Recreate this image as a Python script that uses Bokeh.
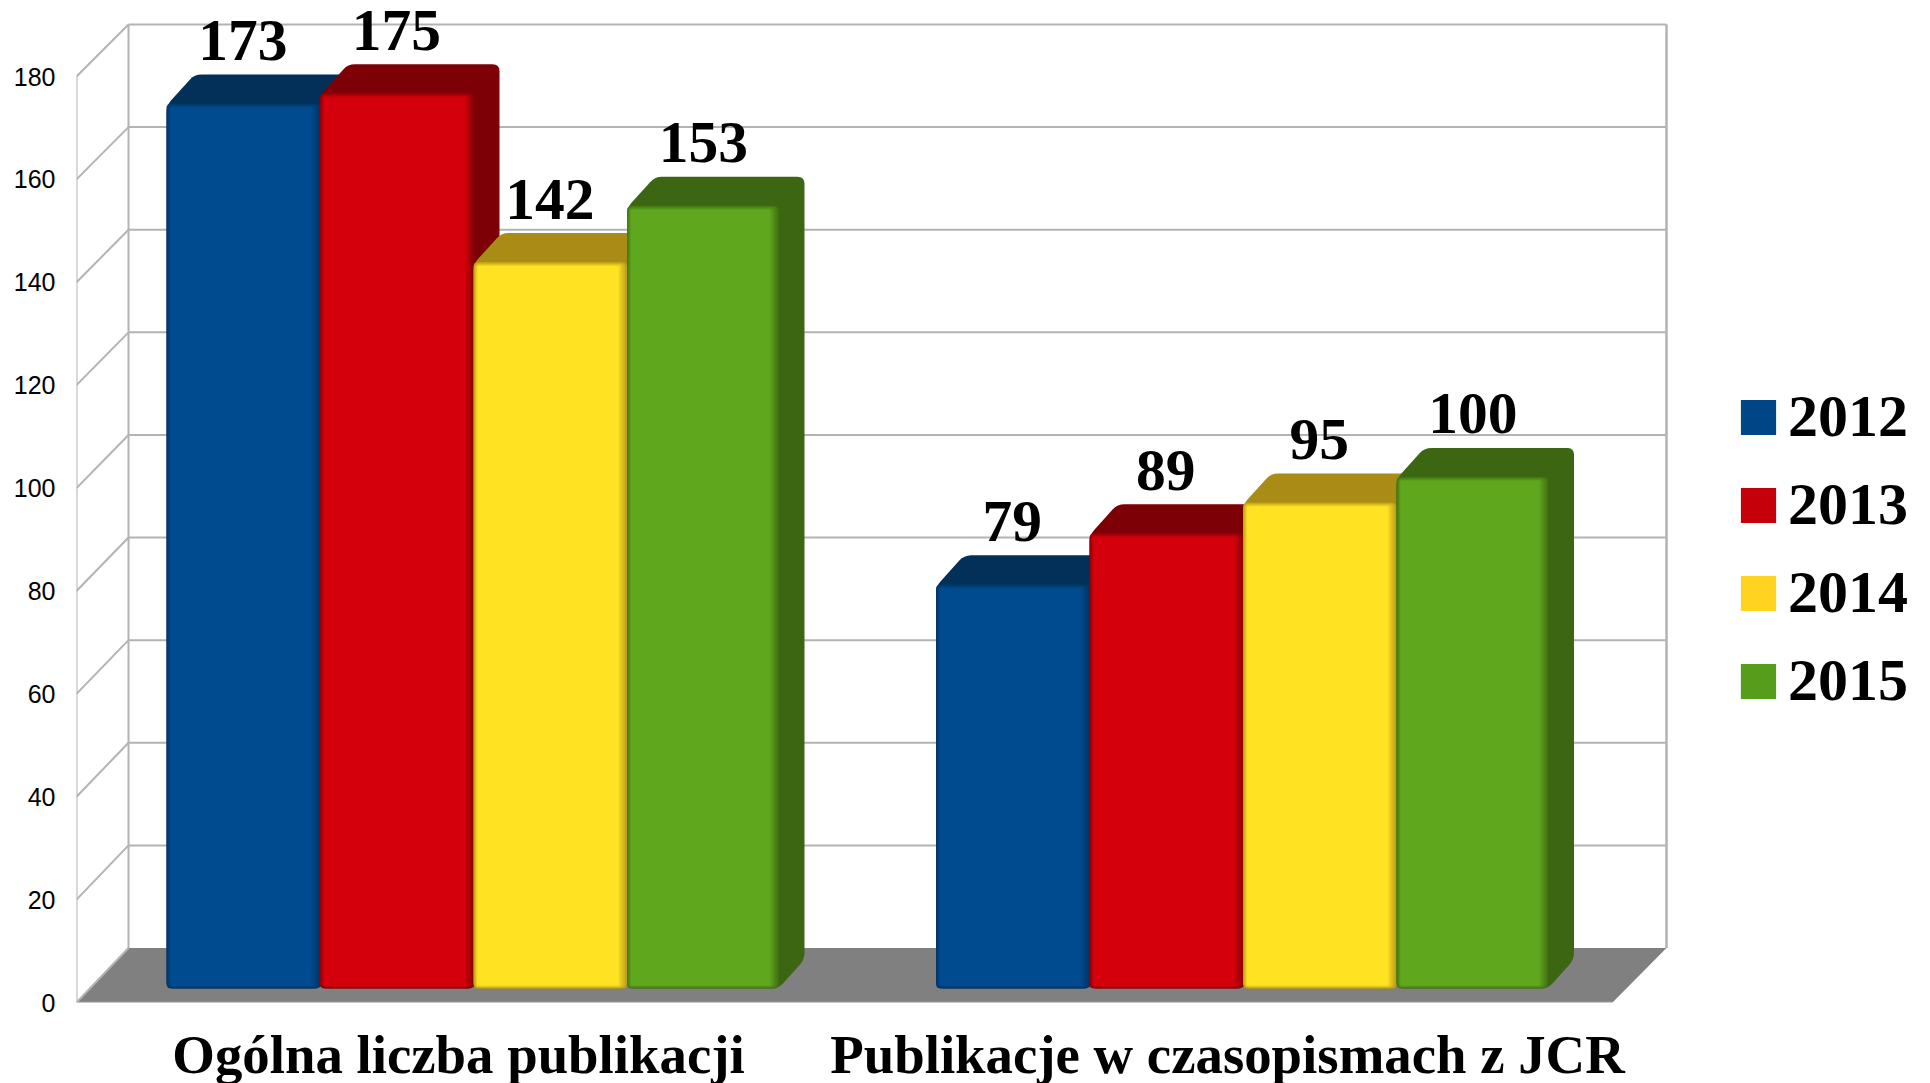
from bokeh.plotting import figure
from bokeh.models import Range1d, FixedTicker, Legend, LegendItem, ColumnDataSource
from bokeh.core.properties import value
from bokeh.embed import file_html
from bokeh.resources import INLINE

# ---- data ----
categories = ["Ogólna liczba publikacji", "Publikacje w czasopismach z JCR"]
years = ["2012", "2013", "2014", "2015"]
v2012 = [173, 79]
v2013 = [175, 89]
v2014 = [142, 95]
v2015 = [153, 100]
y_ticks = [0, 20, 40, 60, 80, 100, 120, 140, 160, 180]

# ---- styling / layout ----
front_cols = ["#004b8f", "#d4000b", "#ffe322", "#5fa81d"]
edge_cols = ["#033058", "#7c0006", "#a88c16", "#3c6612"]
legend_cols = ["#004586", "#c5000b", "#ffd320", "#579d1c"]
GRID = "#b3b3b3"
SERIF = "Liberation Serif"

K = 926 / 180        # px per value on the front plane
K_BACK = 923.5 / 180  # px per value on the back wall
K_BAR = 5.116        # px per value on the bars' front faces
FRONT_0, BACK_0, BAR_0 = 1002, 947.5, 988
WALL_L_F, WALL_L_B, WALL_R_B, FLOOR_R_F = 76, 128, 1666, 1612
GROUP_X = [166, 935.5]
BAR_W = 153.5
DX, DY = 26, 29
W, H = 1914, 1083


def yd(py):
    return (FRONT_0 - py) / K


def lerp_col(a, b, t):
    ca = [int(a[i:i + 2], 16) for i in (1, 3, 5)]
    cb = [int(b[i:i + 2], 16) for i in (1, 3, 5)]
    return "#%02x%02x%02x" % tuple(round(x + (y - x) * t) for x, y in zip(ca, cb))


def round_poly(pts, r):
    out = []
    n = len(pts)
    for i in range(n):
        x0, y0 = pts[i - 1]
        x1, y1 = pts[i]
        x2, y2 = pts[(i + 1) % n]
        l1 = max(((x1 - x0) ** 2 + (y1 - y0) ** 2) ** 0.5, 1e-6)
        l2 = max(((x2 - x1) ** 2 + (y2 - y1) ** 2) ** 0.5, 1e-6)
        r1, r2 = min(r, l1 / 2), min(r, l2 / 2)
        a = (x1 + (x0 - x1) * r1 / l1, y1 + (y0 - y1) * r1 / l1)
        b = (x1 + (x2 - x1) * r2 / l2, y1 + (y2 - y1) * r2 / l2)
        for s in (0, 0.25, 0.5, 0.75, 1):
            out.append(((1 - s) ** 2 * a[0] + 2 * s * (1 - s) * x1 + s * s * b[0],
                        (1 - s) ** 2 * a[1] + 2 * s * (1 - s) * y1 + s * s * b[1]))
    return [p[0] for p in out], [yd(p[1]) for p in out]


p = figure(width=W, height=H, frame_width=W - (WALL_L_F - 8), frame_height=FRONT_0,
           output_backend="svg", toolbar_location=None,
           x_range=Range1d(WALL_L_F, W + 8), y_range=Range1d(0, FRONT_0 / K),
           min_border_left=WALL_L_F - 8, min_border_right=0, min_border_top=0,
           min_border_bottom=H - FRONT_0, margin=(0, 0, 0, 8),
           outline_line_color=None, background_fill_color="white", border_fill_color="white")
p.grid.visible = False

# axes
ya = p.yaxis[0]
ya.ticker = FixedTicker(ticks=y_ticks)
ya.axis_line_color = None
ya.major_tick_line_color = None
ya.minor_tick_line_color = None
ya.major_label_standoff = 15
ya.major_label_text_font = "Liberation Sans"
ya.major_label_text_font_size = "25px"
ya.major_label_text_color = "black"

centers = [458, 1227]
xa = p.xaxis[0]
xa.ticker = FixedTicker(ticks=centers)
xa.major_label_overrides = dict(zip(centers, categories))
xa.axis_line_color = None
xa.major_tick_line_color = None
xa.minor_tick_line_color = None
xa.major_label_standoff = 15
xa.major_label_text_font = SERIF
xa.major_label_text_font_style = "bold"
xa.major_label_text_font_size = "54.8px"
xa.major_label_text_color = "black"

# floor
p.patch([WALL_L_F, FLOOR_R_F, WALL_R_B, WALL_L_B],
        [0, 0, yd(BACK_0), yd(BACK_0)], fill_color="#808080", line_color=None)

# walls and grid
for t in y_ticks:
    yf = t
    yb = yd(BACK_0 - t * K_BACK)
    p.line([WALL_L_F, WALL_L_B], [yf, yb], line_color=GRID, line_width=2)
    if t > 0:
        p.line([WALL_L_B, WALL_R_B], [yb, yb], line_color=GRID, line_width=2)
top_b = yd(BACK_0 - 180 * K_BACK)
p.line([WALL_L_F, WALL_L_F], [0, 180], line_color=GRID, line_width=2)
p.line([WALL_L_B, WALL_L_B], [yd(BACK_0), top_b], line_color=GRID, line_width=2)
p.line([WALL_R_B, WALL_R_B], [yd(BACK_0), top_b], line_color=GRID, line_width=2.5)
p.line([WALL_L_F, FLOOR_R_F], [0, 0], line_color=GRID, line_width=1.5)

# bars
series = [v2012, v2013, v2014, v2015]
STEPS = 6
lab_x, lab_y, lab_t = [], [], []
for si, vals in enumerate(series):
    xs, ys, cols = [], [], []
    for gi, v in enumerate(vals):
        x0 = GROUP_X[gi] + si * BAR_W
        x1 = x0 + BAR_W - (2 if si == 3 else 0)
        top = BAR_0 - v * K_BAR
        base = BAR_0
        ex, ey = round_poly([(x0, top + 2), (x0 + DX + 2, top - DY), (x1 + DX, top - DY),
                             (x1 + DX, base - DY), (x1, base), (x0, base)], 7)
        xs.append(ex); ys.append(ey); cols.append(edge_cols[si])
        for k in range(STEPS):
            t = k / (STEPS - 1)
            xa0 = x0 + 0.8 * k
            xa1 = x1 - 1.7 * k
            ya0 = top + 0.8 * k
            ya1 = base - 0.6 * k
            fx, fy = round_poly([(xa0, ya0), (xa1, ya0), (xa1, ya1), (xa0, ya1)],
                                max(2, 6 - k) if k else 5)
            xs.append(fx); ys.append(fy)
            cols.append(lerp_col(lerp_col(edge_cols[si], front_cols[si], 0.25), front_cols[si], t))
        lab_x.append(x0 + BAR_W / 2 - 0.5)
        lab_y.append(yd(top))
        lab_t.append(str(v))
    p.patches(xs, ys, fill_color=cols, line_color=None)

p.text(lab_x, lab_y, text=lab_t, text_font=value(SERIF), text_font_style="bold",
       text_font_size="59.5px", text_align="center", text_baseline="alphabetic",
       text_color="black", y_offset=-63)

# legend
items = []
for y, c, vals in zip(years, legend_cols, series):
    src = ColumnDataSource(dict(l=[GROUP_X[0]], r=[GROUP_X[0]], t=[vals[0]], b=[vals[0]]))
    r = p.quad(left="l", right="r", top="t", bottom="b", source=src, fill_color=c, line_color=None)
    items.append(LegendItem(label=y, renderers=[r]))
leg = Legend(items=items, location=(1660, 287),
             glyph_width=44, glyph_height=44, label_standoff=8, spacing=19,
             padding=0, margin=0, border_line_color=None, background_fill_alpha=0,
             label_text_font=SERIF, label_text_font_style="bold",
             label_text_font_size="60px", label_text_color="black")
p.add_layout(leg)

open("out.html", "w").write(file_html(p, INLINE))
